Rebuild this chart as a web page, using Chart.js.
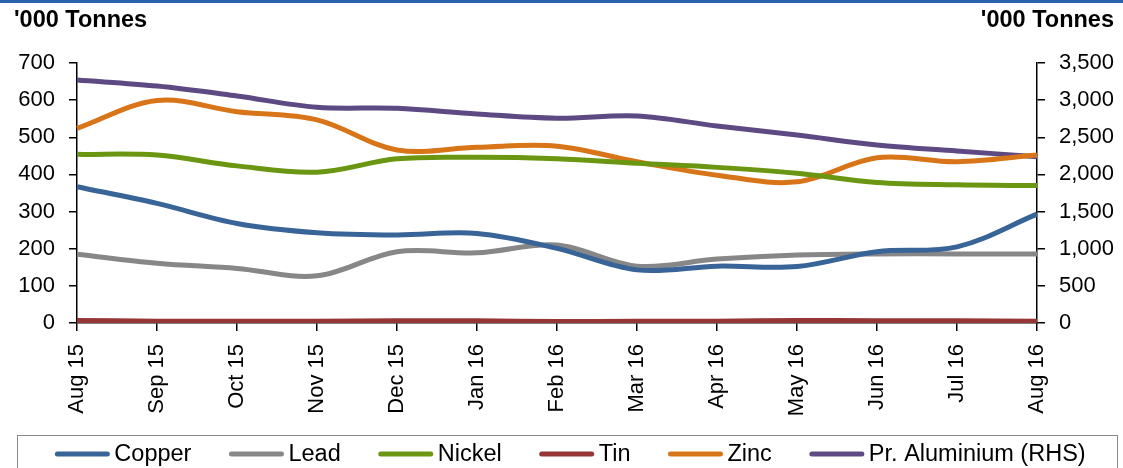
<!DOCTYPE html>
<html>
<head>
<meta charset="utf-8">
<script src="https://cdn.jsdelivr.net/npm/chart.js@4.4.1/dist/chart.umd.min.js"></script>
<style>
  html, body { margin: 0; padding: 0; background: #fff; }
  #wrap { position: relative; width: 1123px; height: 468px; }
</style>
</head>
<body>
<div id="wrap"><canvas id="metalsChart" width="1123" height="468"></canvas></div>
<script>
// Monthly LME-style stocks, '000 tonnes
const months = ['Aug 15', 'Sep 15', 'Oct 15', 'Nov 15', 'Dec 15', 'Jan 16', 'Feb 16',
  'Mar 16', 'Apr 16', 'May 16', 'Jun 16', 'Jul 16', 'Aug 16'];

const copper = [367, 322, 268, 243, 237, 241, 201, 143, 153, 152, 192, 205, 293];
const lead = [185, 161, 147, 127, 192, 189, 210, 153, 172, 183, 186, 186, 186];
const nickel = [454, 452, 423, 406, 442, 446, 442, 430, 419, 403, 378, 372, 370];
const tin = [7, 5, 5, 5, 6, 6, 4, 5, 5, 7, 6, 6, 5];
const zinc = [524, 599, 569, 547, 466, 473, 476, 434, 398, 380, 445, 434, 452];
const aluminium = [3271, 3190, 3056, 2904, 2890, 2813, 2756, 2787, 2652, 2531, 2396, 2315, 2239];

const leftTicks = [0, 100, 200, 300, 400, 500, 600, 700];
const rightTicks = [0, 500, 1000, 1500, 2000, 2500, 3000, 3500];

const FONT = '"Liberation Sans", Arial, sans-serif';

function series(label, data, color, axis) {
  return {
    label: label,
    data: data,
    borderColor: color,
    backgroundColor: color,
    borderWidth: 5,
    pointRadius: 0,
    tension: 0.35,
    yAxisID: axis || 'y'
  };
}

// titles, top band and framed legend
const decorations = {
  id: 'decorations',
  afterDraw(chart) {
    const ctx = chart.ctx;
    ctx.save();
    ctx.fillStyle = '#2a62ae';
    ctx.fillRect(0, 0, 1123, 3);

    ctx.fillStyle = '#000';
    ctx.font = 'bold 23.5px ' + FONT;
    ctx.textBaseline = 'middle';
    ctx.textAlign = 'left';
    ctx.fillText("'000 Tonnes", 14, 21);
    ctx.textAlign = 'right';
    ctx.fillText("'000 Tonnes", 1114, 21);

    // legend frame
    ctx.strokeStyle = '#888';
    ctx.lineWidth = 1;
    ctx.strokeRect(17.5, 435.5, 1100, 40);

    ctx.font = '23.5px ' + FONT;
    ctx.textAlign = 'left';
    const lineW = 56, gap = 4, spacing = 37;
    const items = chart.data.datasets;
    let total = 0;
    items.forEach(d => { total += lineW + gap + ctx.measureText(d.label).width; });
    total += spacing * (items.length - 1);
    let x = 570 - total / 2;
    const y = 454;
    items.forEach(d => {
      ctx.strokeStyle = d.borderColor;
      ctx.lineWidth = 5;
      ctx.lineCap = 'round';
      ctx.beginPath();
      ctx.moveTo(x + 3, y);
      ctx.lineTo(x + lineW - 3, y);
      ctx.stroke();
      x += lineW + gap;
      ctx.fillStyle = '#000';
      ctx.fillText(d.label, x, y + 1);
      x += ctx.measureText(d.label).width + spacing;
    });
    ctx.restore();
  }
};

new Chart(document.getElementById('metalsChart').getContext('2d'), {
  type: 'line',
  data: {
    labels: months,
    datasets: [
      series('Copper', copper, '#386498'),
      series('Lead', lead, '#878787'),
      series('Nickel', nickel, '#6b9612'),
      series('Tin', tin, '#973636'),
      series('Zinc', zinc, '#d97519'),
      series('Pr. Aluminium (RHS)', aluminium, '#5e4a82', 'y1')
    ]
  },
  options: {
    responsive: false,
    animation: false,
    layout: { padding: { top: 63, left: 0, right: 0, bottom: 0 } },
    plugins: {
      legend: { display: false },
      tooltip: { enabled: false }
    },
    scales: {
      x: {
        offset: false,
        afterFit(scale) { scale.height = 145; },
        grid: { drawOnChartArea: false, drawTicks: true, tickLength: 8, color: '#000', lineWidth: 1.5 },
        border: { color: '#000', width: 1.5 },
        ticks: { color: '#000', font: { family: FONT, size: 22 }, minRotation: 90, maxRotation: 90, padding: 13, autoSkip: false }
      },
      y: {
        position: 'left',
        min: 0, max: 700,
        afterFit(scale) { scale.width = 77; },
        afterBuildTicks(scale) { scale.ticks = leftTicks.map(v => ({ value: v })); },
        grid: { drawOnChartArea: false, drawTicks: true, tickLength: 8, color: '#000', lineWidth: 1.5 },
        border: { color: '#000', width: 1.5 },
        ticks: { color: '#000', font: { family: FONT, size: 22 }, padding: 14 }
      },
      y1: {
        position: 'right',
        min: 0, max: 3500,
        afterFit(scale) { scale.width = 86; },
        afterBuildTicks(scale) { scale.ticks = rightTicks.map(v => ({ value: v })); },
        grid: { drawOnChartArea: false, drawTicks: true, tickLength: 8, color: '#000', lineWidth: 1.5 },
        border: { color: '#000', width: 1.5 },
        ticks: {
          color: '#000', font: { family: FONT, size: 22 }, padding: 14,
          callback: v => v.toLocaleString('en-US')
        }
      }
    }
  },
  plugins: [decorations]
});
</script>
</body>
</html>
